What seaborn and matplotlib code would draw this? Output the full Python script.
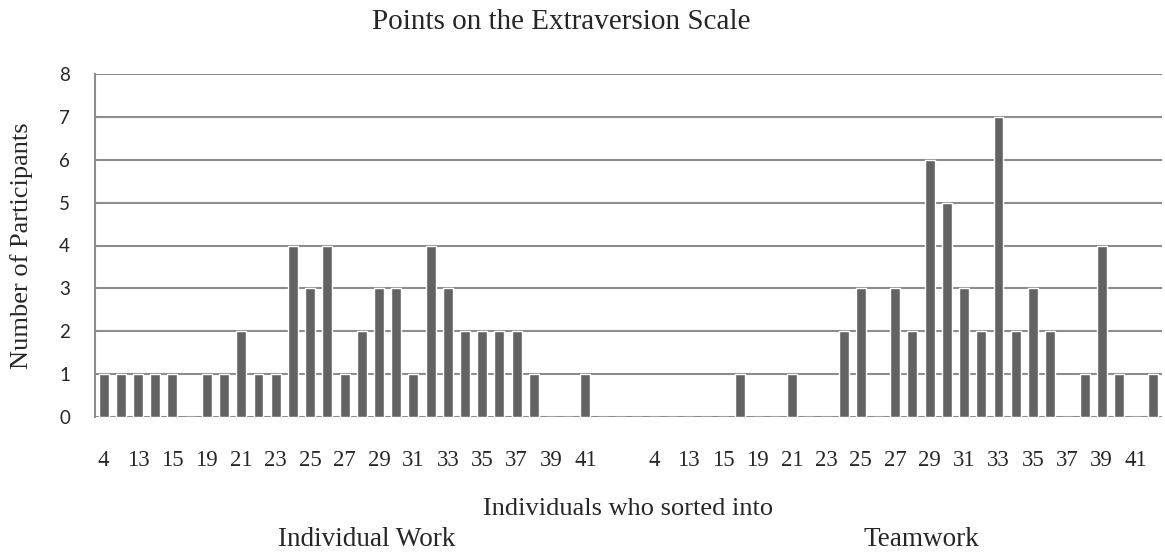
import pandas as pd
import matplotlib
matplotlib.use("Agg")
import matplotlib.pyplot as plt
import matplotlib.transforms as mtransforms
import seaborn as sns

# ==========================================
# Data
# ==========================================
# score categories of each group (every other one is labelled on the axis)
scores = ["4", "12", "13", "14", "15", "17", "19", "20", "21", "22", "23", "24",
          "25", "26", "27", "28", "29", "30", "31", "32", "33", "34", "35", "36",
          "37", "38", "39", "40", "41", "42"]
groups = ["Individual Work", "Teamwork"]

individual_counts = [1, 1, 1, 1, 1, 0, 1, 1, 2, 1, 1, 4, 3, 4, 1, 2, 3, 3, 1, 4,
                     3, 2, 2, 2, 2, 1, 0, 0, 1, 0]
teamwork_counts = [0, 0, 0, 0, 0, 1, 0, 0, 1, 0, 0, 2, 3, 0, 3, 2, 6, 5, 3, 2,
                   7, 2, 3, 2, 0, 1, 4, 1, 0, 1]

gap_slots = 2  # empty categories between the two groups

# build one long table, one row per category slot
rows = []
for g, counts in zip(groups, [individual_counts, teamwork_counts]):
    for s, c in zip(scores, counts):
        rows.append({"slot": f"{g}|{s}", "score": s, "group": g, "count": c})
    if g == groups[0]:
        for k in range(gap_slots):
            rows.append({"slot": f"gap|{k}", "score": "", "group": "", "count": 0})
df = pd.DataFrame(rows)
order = list(df["slot"])

# ==========================================
# Plot
# ==========================================
sns.set_theme(style="white")
serif = ["Liberation Serif", "DejaVu Serif"]
plt.rcParams["font.family"] = serif

fig = plt.figure(figsize=(11.65, 5.53), dpi=100)
ax = fig.add_axes([95 / 1165, 1 - 417 / 553, (1162 - 95) / 1165, (417 - 74) / 553])

sns.barplot(data=df, x="slot", y="count", order=order, color="#636363",
            saturation=1, width=0.58, ax=ax, zorder=3)

ax.set_xlim(-0.5, len(order) - 0.5)
ax.set_ylim(0, 8)
ax.set_yticks(range(0, 9))
ax.set_yticklabels([str(v) for v in range(0, 9)], family=["Lato", "DejaVu Sans"],
                   fontsize=13.5)
ax.yaxis.grid(True, color="#8c8c8c", linewidth=1.5, zorder=0)
ax.tick_params(axis="y", length=4, color="#8c8c8c", width=1.5, pad=14)

# every other score gets a label, in both groups
tick_pos = [i for i, r in enumerate(rows) if r["score"] != ""
            and scores.index(r["score"]) % 2 == 0]
ax.set_xticks(tick_pos)
ax.set_xticklabels([rows[i]["score"] for i in tick_pos], fontsize=16.5)
ax.tick_params(axis="x", length=0, pad=24)

for side in ["top", "right", "bottom"]:
    ax.spines[side].set_visible(False)
ax.spines["left"].set_color("#8c8c8c")
ax.spines["left"].set_linewidth(1.5)

ax.set_xlabel("")
ax.set_ylabel("")
fig.text(22 / 1165, 1 - 246 / 553, "Number of Participants", rotation=90,
         ha="center", va="center", fontsize=19)

# group labels under the axis
trans = mtransforms.blended_transform_factory(ax.transData, fig.transFigure)
left_mid = (len(scores) + gap_slots - 1) / 2 - 0.2
right_mid = len(scores) + gap_slots + (len(scores) + 2 - 1) / 2
ax.text(left_mid, 1 - 540 / 553, groups[0], transform=trans, ha="center",
        va="center", fontsize=19.5)
ax.text(right_mid, 1 - 540 / 553, groups[1], transform=trans, ha="center",
        va="center", fontsize=19.5)
fig.text((95 + 1162) / 2 / 1165, 1 - 509 / 553, "Individuals who sorted into",
         ha="center", va="center", fontsize=19)

fig.text(561 / 1165, 1 - 22 / 553, "Points on the Extraversion Scale",
         ha="center", va="center", fontsize=21)

fig.savefig("out.png", dpi=100)
